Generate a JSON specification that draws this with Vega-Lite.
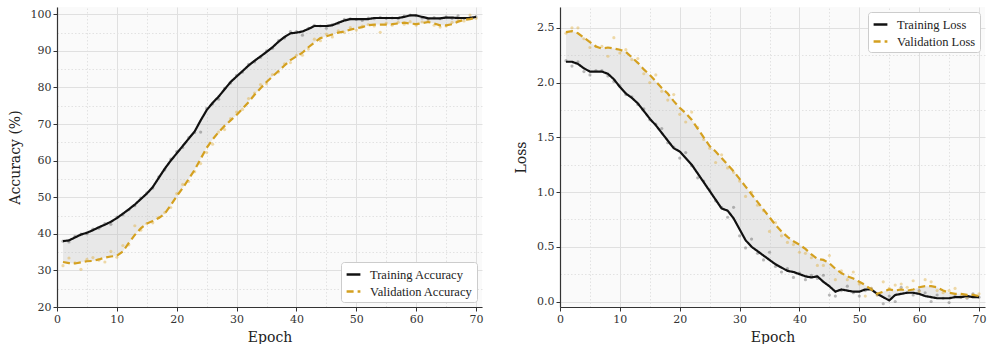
{
  "$schema": "https://vega.github.io/schema/vega-lite/v6.json",
  "padding": {"left": 8, "top": 7, "right": 5, "bottom": 0},
  "background": "white",
  "config": {
    "font": "DejaVu Serif",
    "view": {"fill": "#fafafa", "stroke": null},
    "axis": {
      "labelFont": "DejaVu Serif",
      "titleFont": "DejaVu Serif",
      "labelFontSize": 11,
      "titleFontSize": 14,
      "titleFontWeight": "normal",
      "labelColor": "#333333",
      "titleColor": "#222222",
      "domainColor": "#333333",
      "domainWidth": 1.2,
      "tickColor": "#333333",
      "tickSize": 4,
      "gridColor": "#e0e0e0",
      "labelFlush": false,
      "labelOverlap": false
    },
    "legend": {
      "labelFont": "Liberation Serif",
      "labelFontSize": 12.5,
      "labelColor": "#222222",
      "fillColor": "white",
      "strokeColor": "#cccccc",
      "padding": 4,
      "cornerRadius": 3,
      "rowPadding": 2,
      "symbolType": "M-1,0H1",
      "symbolSize": 190,
      "symbolStrokeWidth": 2.5,
      "labelOffset": 8,
      "offset": 5,
      "title": null
    }
  },
  "datasets": {
    "acc": [
      {"epoch":1,"series":"Training Accuracy","smooth":38.0,"raw":38.0},
      {"epoch":2,"series":"Training Accuracy","smooth":38.2,"raw":37.8},
      {"epoch":3,"series":"Training Accuracy","smooth":39.0,"raw":39.3},
      {"epoch":4,"series":"Training Accuracy","smooth":39.8,"raw":39.9},
      {"epoch":5,"series":"Training Accuracy","smooth":40.3,"raw":40.0},
      {"epoch":6,"series":"Training Accuracy","smooth":41.0,"raw":41.3},
      {"epoch":7,"series":"Training Accuracy","smooth":41.8,"raw":41.5},
      {"epoch":8,"series":"Training Accuracy","smooth":42.5,"raw":42.8},
      {"epoch":9,"series":"Training Accuracy","smooth":43.3,"raw":42.6},
      {"epoch":10,"series":"Training Accuracy","smooth":44.3,"raw":44.6},
      {"epoch":11,"series":"Training Accuracy","smooth":45.5,"raw":45.2},
      {"epoch":12,"series":"Training Accuracy","smooth":46.7,"raw":46.6},
      {"epoch":13,"series":"Training Accuracy","smooth":48.0,"raw":47.7},
      {"epoch":14,"series":"Training Accuracy","smooth":49.5,"raw":49.8},
      {"epoch":15,"series":"Training Accuracy","smooth":51.0,"raw":51.2},
      {"epoch":16,"series":"Training Accuracy","smooth":52.8,"raw":52.5},
      {"epoch":17,"series":"Training Accuracy","smooth":55.3,"raw":55.6},
      {"epoch":18,"series":"Training Accuracy","smooth":57.8,"raw":57.5},
      {"epoch":19,"series":"Training Accuracy","smooth":60.0,"raw":60.4},
      {"epoch":20,"series":"Training Accuracy","smooth":62.0,"raw":62.5},
      {"epoch":21,"series":"Training Accuracy","smooth":64.0,"raw":63.6},
      {"epoch":22,"series":"Training Accuracy","smooth":66.0,"raw":66.3},
      {"epoch":23,"series":"Training Accuracy","smooth":68.0,"raw":67.7},
      {"epoch":24,"series":"Training Accuracy","smooth":71.0,"raw":67.8},
      {"epoch":25,"series":"Training Accuracy","smooth":73.8,"raw":74.3},
      {"epoch":26,"series":"Training Accuracy","smooth":75.8,"raw":75.5},
      {"epoch":27,"series":"Training Accuracy","smooth":77.5,"raw":76.8},
      {"epoch":28,"series":"Training Accuracy","smooth":79.5,"raw":79.8},
      {"epoch":29,"series":"Training Accuracy","smooth":81.5,"raw":81.2},
      {"epoch":30,"series":"Training Accuracy","smooth":83.0,"raw":83.3},
      {"epoch":31,"series":"Training Accuracy","smooth":84.5,"raw":84.2},
      {"epoch":32,"series":"Training Accuracy","smooth":86.0,"raw":86.3},
      {"epoch":33,"series":"Training Accuracy","smooth":87.3,"raw":87.0},
      {"epoch":34,"series":"Training Accuracy","smooth":88.5,"raw":88.2},
      {"epoch":35,"series":"Training Accuracy","smooth":89.7,"raw":90.0},
      {"epoch":36,"series":"Training Accuracy","smooth":91.0,"raw":90.7},
      {"epoch":37,"series":"Training Accuracy","smooth":92.5,"raw":92.8},
      {"epoch":38,"series":"Training Accuracy","smooth":93.8,"raw":93.5},
      {"epoch":39,"series":"Training Accuracy","smooth":94.8,"raw":95.3},
      {"epoch":40,"series":"Training Accuracy","smooth":95.0,"raw":95.3},
      {"epoch":41,"series":"Training Accuracy","smooth":95.3,"raw":94.3},
      {"epoch":42,"series":"Training Accuracy","smooth":96.0,"raw":96.2},
      {"epoch":43,"series":"Training Accuracy","smooth":96.8,"raw":97.0},
      {"epoch":44,"series":"Training Accuracy","smooth":96.8,"raw":96.8},
      {"epoch":45,"series":"Training Accuracy","smooth":96.8,"raw":96.2},
      {"epoch":46,"series":"Training Accuracy","smooth":97.0,"raw":97.2},
      {"epoch":47,"series":"Training Accuracy","smooth":97.7,"raw":97.5},
      {"epoch":48,"series":"Training Accuracy","smooth":98.3,"raw":98.6},
      {"epoch":49,"series":"Training Accuracy","smooth":98.7,"raw":98.8},
      {"epoch":50,"series":"Training Accuracy","smooth":98.7,"raw":98.6},
      {"epoch":51,"series":"Training Accuracy","smooth":98.7,"raw":98.3},
      {"epoch":52,"series":"Training Accuracy","smooth":98.7,"raw":99.0},
      {"epoch":53,"series":"Training Accuracy","smooth":99.0,"raw":98.8},
      {"epoch":54,"series":"Training Accuracy","smooth":99.0,"raw":99.2},
      {"epoch":55,"series":"Training Accuracy","smooth":99.0,"raw":98.9},
      {"epoch":56,"series":"Training Accuracy","smooth":99.0,"raw":99.0},
      {"epoch":57,"series":"Training Accuracy","smooth":99.0,"raw":98.8},
      {"epoch":58,"series":"Training Accuracy","smooth":99.3,"raw":99.5},
      {"epoch":59,"series":"Training Accuracy","smooth":99.7,"raw":99.8},
      {"epoch":60,"series":"Training Accuracy","smooth":99.7,"raw":99.6},
      {"epoch":61,"series":"Training Accuracy","smooth":99.3,"raw":99.0},
      {"epoch":62,"series":"Training Accuracy","smooth":98.9,"raw":98.7},
      {"epoch":63,"series":"Training Accuracy","smooth":98.9,"raw":99.1},
      {"epoch":64,"series":"Training Accuracy","smooth":98.9,"raw":98.8},
      {"epoch":65,"series":"Training Accuracy","smooth":99.1,"raw":99.3},
      {"epoch":66,"series":"Training Accuracy","smooth":99.1,"raw":98.9},
      {"epoch":67,"series":"Training Accuracy","smooth":99.0,"raw":99.6},
      {"epoch":68,"series":"Training Accuracy","smooth":99.0,"raw":98.9},
      {"epoch":69,"series":"Training Accuracy","smooth":99.0,"raw":99.2},
      {"epoch":70,"series":"Training Accuracy","smooth":99.3,"raw":99.3},
      {"epoch":1,"series":"Validation Accuracy","smooth":32.3,"raw":31.3},
      {"epoch":2,"series":"Validation Accuracy","smooth":32.0,"raw":33.4},
      {"epoch":3,"series":"Validation Accuracy","smooth":31.9,"raw":32.1},
      {"epoch":4,"series":"Validation Accuracy","smooth":32.2,"raw":30.3},
      {"epoch":5,"series":"Validation Accuracy","smooth":32.5,"raw":33.0},
      {"epoch":6,"series":"Validation Accuracy","smooth":32.6,"raw":33.5},
      {"epoch":7,"series":"Validation Accuracy","smooth":33.0,"raw":32.8},
      {"epoch":8,"series":"Validation Accuracy","smooth":33.5,"raw":32.3},
      {"epoch":9,"series":"Validation Accuracy","smooth":33.8,"raw":35.2},
      {"epoch":10,"series":"Validation Accuracy","smooth":34.0,"raw":33.6},
      {"epoch":11,"series":"Validation Accuracy","smooth":35.2,"raw":36.8},
      {"epoch":12,"series":"Validation Accuracy","smooth":37.5,"raw":37.0},
      {"epoch":13,"series":"Validation Accuracy","smooth":39.7,"raw":42.2},
      {"epoch":14,"series":"Validation Accuracy","smooth":41.5,"raw":41.0},
      {"epoch":15,"series":"Validation Accuracy","smooth":42.8,"raw":42.8},
      {"epoch":16,"series":"Validation Accuracy","smooth":43.5,"raw":43.0},
      {"epoch":17,"series":"Validation Accuracy","smooth":44.3,"raw":44.5},
      {"epoch":18,"series":"Validation Accuracy","smooth":45.5,"raw":45.8},
      {"epoch":19,"series":"Validation Accuracy","smooth":47.8,"raw":47.2},
      {"epoch":20,"series":"Validation Accuracy","smooth":50.3,"raw":51.0},
      {"epoch":21,"series":"Validation Accuracy","smooth":52.5,"raw":53.5},
      {"epoch":22,"series":"Validation Accuracy","smooth":55.0,"raw":54.3},
      {"epoch":23,"series":"Validation Accuracy","smooth":57.5,"raw":57.0},
      {"epoch":24,"series":"Validation Accuracy","smooth":60.5,"raw":59.2},
      {"epoch":25,"series":"Validation Accuracy","smooth":63.5,"raw":62.2},
      {"epoch":26,"series":"Validation Accuracy","smooth":65.8,"raw":64.5},
      {"epoch":27,"series":"Validation Accuracy","smooth":67.8,"raw":67.8},
      {"epoch":28,"series":"Validation Accuracy","smooth":69.5,"raw":68.5},
      {"epoch":29,"series":"Validation Accuracy","smooth":71.0,"raw":71.5},
      {"epoch":30,"series":"Validation Accuracy","smooth":72.5,"raw":73.3},
      {"epoch":31,"series":"Validation Accuracy","smooth":74.2,"raw":74.0},
      {"epoch":32,"series":"Validation Accuracy","smooth":76.0,"raw":77.0},
      {"epoch":33,"series":"Validation Accuracy","smooth":78.0,"raw":78.5},
      {"epoch":34,"series":"Validation Accuracy","smooth":79.8,"raw":80.8},
      {"epoch":35,"series":"Validation Accuracy","smooth":81.5,"raw":81.0},
      {"epoch":36,"series":"Validation Accuracy","smooth":83.0,"raw":83.5},
      {"epoch":37,"series":"Validation Accuracy","smooth":84.5,"raw":84.2},
      {"epoch":38,"series":"Validation Accuracy","smooth":86.0,"raw":86.5},
      {"epoch":39,"series":"Validation Accuracy","smooth":87.5,"raw":86.8},
      {"epoch":40,"series":"Validation Accuracy","smooth":88.5,"raw":88.8},
      {"epoch":41,"series":"Validation Accuracy","smooth":89.5,"raw":88.8},
      {"epoch":42,"series":"Validation Accuracy","smooth":91.0,"raw":90.5},
      {"epoch":43,"series":"Validation Accuracy","smooth":92.3,"raw":93.2},
      {"epoch":44,"series":"Validation Accuracy","smooth":93.5,"raw":92.8},
      {"epoch":45,"series":"Validation Accuracy","smooth":94.0,"raw":94.6},
      {"epoch":46,"series":"Validation Accuracy","smooth":94.5,"raw":93.8},
      {"epoch":47,"series":"Validation Accuracy","smooth":95.0,"raw":95.5},
      {"epoch":48,"series":"Validation Accuracy","smooth":95.3,"raw":95.0},
      {"epoch":49,"series":"Validation Accuracy","smooth":95.8,"raw":96.4},
      {"epoch":50,"series":"Validation Accuracy","smooth":96.2,"raw":95.7},
      {"epoch":51,"series":"Validation Accuracy","smooth":96.5,"raw":96.8},
      {"epoch":52,"series":"Validation Accuracy","smooth":97.0,"raw":97.2},
      {"epoch":53,"series":"Validation Accuracy","smooth":97.2,"raw":96.8},
      {"epoch":54,"series":"Validation Accuracy","smooth":97.2,"raw":95.1},
      {"epoch":55,"series":"Validation Accuracy","smooth":97.2,"raw":97.6},
      {"epoch":56,"series":"Validation Accuracy","smooth":97.3,"raw":97.0},
      {"epoch":57,"series":"Validation Accuracy","smooth":97.5,"raw":97.8},
      {"epoch":58,"series":"Validation Accuracy","smooth":97.7,"raw":97.3},
      {"epoch":59,"series":"Validation Accuracy","smooth":97.5,"raw":98.0},
      {"epoch":60,"series":"Validation Accuracy","smooth":97.3,"raw":97.0},
      {"epoch":61,"series":"Validation Accuracy","smooth":97.6,"raw":97.9},
      {"epoch":62,"series":"Validation Accuracy","smooth":97.9,"raw":98.2},
      {"epoch":63,"series":"Validation Accuracy","smooth":97.5,"raw":97.0},
      {"epoch":64,"series":"Validation Accuracy","smooth":97.0,"raw":96.5},
      {"epoch":65,"series":"Validation Accuracy","smooth":97.0,"raw":96.8},
      {"epoch":66,"series":"Validation Accuracy","smooth":97.3,"raw":97.8},
      {"epoch":67,"series":"Validation Accuracy","smooth":98.0,"raw":98.3},
      {"epoch":68,"series":"Validation Accuracy","smooth":98.5,"raw":98.2},
      {"epoch":69,"series":"Validation Accuracy","smooth":98.7,"raw":99.8},
      {"epoch":70,"series":"Validation Accuracy","smooth":99.0,"raw":98.9}
    ],
    "loss": [
      {"epoch":1,"series":"Training Loss","smooth":2.19,"raw":2.20},
      {"epoch":2,"series":"Training Loss","smooth":2.19,"raw":2.15},
      {"epoch":3,"series":"Training Loss","smooth":2.17,"raw":2.19},
      {"epoch":4,"series":"Training Loss","smooth":2.13,"raw":2.10},
      {"epoch":5,"series":"Training Loss","smooth":2.10,"raw":2.07},
      {"epoch":6,"series":"Training Loss","smooth":2.10,"raw":2.11},
      {"epoch":7,"series":"Training Loss","smooth":2.10,"raw":2.11},
      {"epoch":8,"series":"Training Loss","smooth":2.08,"raw":2.06},
      {"epoch":9,"series":"Training Loss","smooth":2.03,"raw":2.01},
      {"epoch":10,"series":"Training Loss","smooth":1.96,"raw":1.97},
      {"epoch":11,"series":"Training Loss","smooth":1.90,"raw":1.89},
      {"epoch":12,"series":"Training Loss","smooth":1.86,"raw":1.87},
      {"epoch":13,"series":"Training Loss","smooth":1.81,"raw":1.80},
      {"epoch":14,"series":"Training Loss","smooth":1.74,"raw":1.76},
      {"epoch":15,"series":"Training Loss","smooth":1.67,"raw":1.66},
      {"epoch":16,"series":"Training Loss","smooth":1.61,"raw":1.62},
      {"epoch":17,"series":"Training Loss","smooth":1.54,"raw":1.58},
      {"epoch":18,"series":"Training Loss","smooth":1.47,"raw":1.45},
      {"epoch":19,"series":"Training Loss","smooth":1.40,"raw":1.41},
      {"epoch":20,"series":"Training Loss","smooth":1.37,"raw":1.31},
      {"epoch":21,"series":"Training Loss","smooth":1.31,"raw":1.36},
      {"epoch":22,"series":"Training Loss","smooth":1.25,"raw":1.24},
      {"epoch":23,"series":"Training Loss","smooth":1.17,"raw":1.13},
      {"epoch":24,"series":"Training Loss","smooth":1.09,"raw":1.10},
      {"epoch":25,"series":"Training Loss","smooth":1.01,"raw":1.02},
      {"epoch":26,"series":"Training Loss","smooth":0.93,"raw":0.92},
      {"epoch":27,"series":"Training Loss","smooth":0.85,"raw":0.86},
      {"epoch":28,"series":"Training Loss","smooth":0.83,"raw":0.77},
      {"epoch":29,"series":"Training Loss","smooth":0.76,"raw":0.86},
      {"epoch":30,"series":"Training Loss","smooth":0.66,"raw":0.60},
      {"epoch":31,"series":"Training Loss","smooth":0.56,"raw":0.49},
      {"epoch":32,"series":"Training Loss","smooth":0.50,"raw":0.57},
      {"epoch":33,"series":"Training Loss","smooth":0.46,"raw":0.44},
      {"epoch":34,"series":"Training Loss","smooth":0.42,"raw":0.38},
      {"epoch":35,"series":"Training Loss","smooth":0.38,"raw":0.45},
      {"epoch":36,"series":"Training Loss","smooth":0.34,"raw":0.32},
      {"epoch":37,"series":"Training Loss","smooth":0.31,"raw":0.27},
      {"epoch":38,"series":"Training Loss","smooth":0.28,"raw":0.30},
      {"epoch":39,"series":"Training Loss","smooth":0.27,"raw":0.22},
      {"epoch":40,"series":"Training Loss","smooth":0.25,"raw":0.26},
      {"epoch":41,"series":"Training Loss","smooth":0.23,"raw":0.20},
      {"epoch":42,"series":"Training Loss","smooth":0.22,"raw":0.24},
      {"epoch":43,"series":"Training Loss","smooth":0.23,"raw":0.21},
      {"epoch":44,"series":"Training Loss","smooth":0.18,"raw":0.24},
      {"epoch":45,"series":"Training Loss","smooth":0.14,"raw":0.06},
      {"epoch":46,"series":"Training Loss","smooth":0.09,"raw":0.05},
      {"epoch":47,"series":"Training Loss","smooth":0.11,"raw":0.10},
      {"epoch":48,"series":"Training Loss","smooth":0.10,"raw":0.14},
      {"epoch":49,"series":"Training Loss","smooth":0.09,"raw":0.08},
      {"epoch":50,"series":"Training Loss","smooth":0.09,"raw":0.05},
      {"epoch":51,"series":"Training Loss","smooth":0.11,"raw":0.10},
      {"epoch":52,"series":"Training Loss","smooth":0.11,"raw":0.12},
      {"epoch":53,"series":"Training Loss","smooth":0.07,"raw":0.06},
      {"epoch":54,"series":"Training Loss","smooth":0.04,"raw":-0.02},
      {"epoch":55,"series":"Training Loss","smooth":0.01,"raw":0.05},
      {"epoch":56,"series":"Training Loss","smooth":0.06,"raw":0.00},
      {"epoch":57,"series":"Training Loss","smooth":0.07,"raw":0.13},
      {"epoch":58,"series":"Training Loss","smooth":0.08,"raw":0.08},
      {"epoch":59,"series":"Training Loss","smooth":0.08,"raw":0.06},
      {"epoch":60,"series":"Training Loss","smooth":0.07,"raw":0.10},
      {"epoch":61,"series":"Training Loss","smooth":0.05,"raw":0.08},
      {"epoch":62,"series":"Training Loss","smooth":0.04,"raw":0.00},
      {"epoch":63,"series":"Training Loss","smooth":0.03,"raw":0.06},
      {"epoch":64,"series":"Training Loss","smooth":0.03,"raw":0.03},
      {"epoch":65,"series":"Training Loss","smooth":0.03,"raw":-0.01},
      {"epoch":66,"series":"Training Loss","smooth":0.04,"raw":0.05},
      {"epoch":67,"series":"Training Loss","smooth":0.04,"raw":0.04},
      {"epoch":68,"series":"Training Loss","smooth":0.05,"raw":0.03},
      {"epoch":69,"series":"Training Loss","smooth":0.04,"raw":0.07},
      {"epoch":70,"series":"Training Loss","smooth":0.04,"raw":0.04},
      {"epoch":1,"series":"Validation Loss","smooth":2.46,"raw":2.45},
      {"epoch":2,"series":"Validation Loss","smooth":2.47,"raw":2.50},
      {"epoch":3,"series":"Validation Loss","smooth":2.45,"raw":2.50},
      {"epoch":4,"series":"Validation Loss","smooth":2.41,"raw":2.40},
      {"epoch":5,"series":"Validation Loss","smooth":2.37,"raw":2.32},
      {"epoch":6,"series":"Validation Loss","smooth":2.33,"raw":2.33},
      {"epoch":7,"series":"Validation Loss","smooth":2.31,"raw":2.33},
      {"epoch":8,"series":"Validation Loss","smooth":2.32,"raw":2.24},
      {"epoch":9,"series":"Validation Loss","smooth":2.31,"raw":2.41},
      {"epoch":10,"series":"Validation Loss","smooth":2.30,"raw":2.27},
      {"epoch":11,"series":"Validation Loss","smooth":2.28,"raw":2.30},
      {"epoch":12,"series":"Validation Loss","smooth":2.23,"raw":2.21},
      {"epoch":13,"series":"Validation Loss","smooth":2.18,"raw":2.22},
      {"epoch":14,"series":"Validation Loss","smooth":2.12,"raw":2.08},
      {"epoch":15,"series":"Validation Loss","smooth":2.07,"raw":2.00},
      {"epoch":16,"series":"Validation Loss","smooth":2.01,"raw":2.07},
      {"epoch":17,"series":"Validation Loss","smooth":1.95,"raw":1.92},
      {"epoch":18,"series":"Validation Loss","smooth":1.90,"raw":1.84},
      {"epoch":19,"series":"Validation Loss","smooth":1.83,"raw":1.89},
      {"epoch":20,"series":"Validation Loss","smooth":1.77,"raw":1.71},
      {"epoch":21,"series":"Validation Loss","smooth":1.72,"raw":1.64},
      {"epoch":22,"series":"Validation Loss","smooth":1.66,"raw":1.73},
      {"epoch":23,"series":"Validation Loss","smooth":1.58,"raw":1.59},
      {"epoch":24,"series":"Validation Loss","smooth":1.50,"raw":1.48},
      {"epoch":25,"series":"Validation Loss","smooth":1.42,"raw":1.40},
      {"epoch":26,"series":"Validation Loss","smooth":1.37,"raw":1.27},
      {"epoch":27,"series":"Validation Loss","smooth":1.31,"raw":1.34},
      {"epoch":28,"series":"Validation Loss","smooth":1.25,"raw":1.22},
      {"epoch":29,"series":"Validation Loss","smooth":1.19,"raw":1.18},
      {"epoch":30,"series":"Validation Loss","smooth":1.12,"raw":1.10},
      {"epoch":31,"series":"Validation Loss","smooth":1.05,"raw":0.96},
      {"epoch":32,"series":"Validation Loss","smooth":0.98,"raw":1.00},
      {"epoch":33,"series":"Validation Loss","smooth":0.91,"raw":0.88},
      {"epoch":34,"series":"Validation Loss","smooth":0.84,"raw":0.83},
      {"epoch":35,"series":"Validation Loss","smooth":0.77,"raw":0.64},
      {"epoch":36,"series":"Validation Loss","smooth":0.70,"raw":0.72},
      {"epoch":37,"series":"Validation Loss","smooth":0.64,"raw":0.60},
      {"epoch":38,"series":"Validation Loss","smooth":0.59,"raw":0.54},
      {"epoch":39,"series":"Validation Loss","smooth":0.55,"raw":0.52},
      {"epoch":40,"series":"Validation Loss","smooth":0.52,"raw":0.45},
      {"epoch":41,"series":"Validation Loss","smooth":0.48,"raw":0.44},
      {"epoch":42,"series":"Validation Loss","smooth":0.43,"raw":0.40},
      {"epoch":43,"series":"Validation Loss","smooth":0.39,"raw":0.33},
      {"epoch":44,"series":"Validation Loss","smooth":0.38,"raw":0.33},
      {"epoch":45,"series":"Validation Loss","smooth":0.35,"raw":0.42},
      {"epoch":46,"series":"Validation Loss","smooth":0.30,"raw":0.20},
      {"epoch":47,"series":"Validation Loss","smooth":0.26,"raw":0.28},
      {"epoch":48,"series":"Validation Loss","smooth":0.23,"raw":0.20},
      {"epoch":49,"series":"Validation Loss","smooth":0.21,"raw":0.27},
      {"epoch":50,"series":"Validation Loss","smooth":0.18,"raw":0.16},
      {"epoch":51,"series":"Validation Loss","smooth":0.15,"raw":0.05},
      {"epoch":52,"series":"Validation Loss","smooth":0.11,"raw":0.12},
      {"epoch":53,"series":"Validation Loss","smooth":0.07,"raw":0.06},
      {"epoch":54,"series":"Validation Loss","smooth":0.09,"raw":0.18},
      {"epoch":55,"series":"Validation Loss","smooth":0.11,"raw":0.12},
      {"epoch":56,"series":"Validation Loss","smooth":0.10,"raw":0.15},
      {"epoch":57,"series":"Validation Loss","smooth":0.11,"raw":0.16},
      {"epoch":58,"series":"Validation Loss","smooth":0.10,"raw":0.13},
      {"epoch":59,"series":"Validation Loss","smooth":0.11,"raw":0.19},
      {"epoch":60,"series":"Validation Loss","smooth":0.13,"raw":0.09},
      {"epoch":61,"series":"Validation Loss","smooth":0.14,"raw":0.20},
      {"epoch":62,"series":"Validation Loss","smooth":0.14,"raw":0.18},
      {"epoch":63,"series":"Validation Loss","smooth":0.13,"raw":0.10},
      {"epoch":64,"series":"Validation Loss","smooth":0.10,"raw":0.08},
      {"epoch":65,"series":"Validation Loss","smooth":0.08,"raw":0.10},
      {"epoch":66,"series":"Validation Loss","smooth":0.07,"raw":0.12},
      {"epoch":67,"series":"Validation Loss","smooth":0.07,"raw":0.05},
      {"epoch":68,"series":"Validation Loss","smooth":0.06,"raw":0.04},
      {"epoch":69,"series":"Validation Loss","smooth":0.06,"raw":0.06},
      {"epoch":70,"series":"Validation Loss","smooth":0.05,"raw":0.07}
    ]
  },
  "hconcat": [
    {
      "width": 425,
      "height": 300,
      "data": {"name": "acc"},
      "resolve": {"axis": {"x": "independent", "y": "independent"}},
      "layer": [
        {
          "transform": [{"pivot": "series", "value": "smooth", "groupby": ["epoch"]}],
          "mark": {"type": "area", "fill": "#bbbbbb", "fillOpacity": 0.28},
          "encoding": {
            "x": {"field": "epoch", "type": "quantitative", "scale": {"domain": [0, 71], "nice": false},
              "axis": {"title": "Epoch", "orient": "bottom", "values": [0,10,20,30,40,50,60,70], "titlePadding": 6}},
            "y": {"field": "Training Accuracy", "type": "quantitative", "scale": {"domain": [20, 102], "nice": false},
              "axis": {"title": "Accuracy (%)", "orient": "left", "values": [20,30,40,50,60,70,80,90,100], "titlePadding": 8}},
            "y2": {"field": "Validation Accuracy"}
          }
        },
        {
          "transform": [{"filter": "datum.series === 'Training Accuracy'"}],
          "mark": {"type": "circle", "size": 10, "color": "#555555", "opacity": 0.4},
          "encoding": {
            "x": {"field": "epoch", "type": "quantitative",
              "axis": {"orient": "top", "title": null, "values": [5,15,25,35,45,55,65], "labels": false, "ticks": false, "domain": false, "grid": true, "gridDash": [1.5, 2], "gridColor": "#e2e2e2"}},
            "y": {"field": "raw", "type": "quantitative",
              "axis": {"orient": "right", "title": null, "values": [25,35,45,55,65,75,85,95], "labels": false, "ticks": false, "domain": false, "grid": true, "gridDash": [1.5, 2], "gridColor": "#e2e2e2"}}
          }
        },
        {
          "transform": [{"filter": "datum.series === 'Validation Accuracy'"}],
          "mark": {"type": "circle", "size": 10, "color": "#e0b040", "opacity": 0.45},
          "encoding": {
            "x": {"field": "epoch", "type": "quantitative", "axis": null},
            "y": {"field": "raw", "type": "quantitative", "axis": null}
          }
        },
        {
          "mark": {"type": "line", "strokeWidth": 2.2},
          "encoding": {
            "x": {"field": "epoch", "type": "quantitative", "axis": null},
            "y": {"field": "smooth", "type": "quantitative", "axis": null},
            "color": {"field": "series", "type": "nominal",
              "scale": {"domain": ["Training Accuracy", "Validation Accuracy"], "range": ["#111111", "#d4a020"]},
              "legend": {"orient": "bottom-right"}},
            "strokeDash": {"field": "series", "type": "nominal",
              "scale": {"domain": ["Training Accuracy", "Validation Accuracy"], "range": [[1, 0], [7, 4]]},
              "legend": {"orient": "bottom-right"}}
          }
        }
      ]
    },
    {
      "width": 425,
      "height": 300,
      "data": {"name": "loss"},
      "resolve": {"axis": {"x": "independent", "y": "independent"}},
      "layer": [
        {
          "transform": [{"pivot": "series", "value": "smooth", "groupby": ["epoch"]}],
          "mark": {"type": "area", "fill": "#bbbbbb", "fillOpacity": 0.28},
          "encoding": {
            "x": {"field": "epoch", "type": "quantitative", "scale": {"domain": [0, 71], "nice": false},
              "axis": {"title": "Epoch", "orient": "bottom", "values": [0,10,20,30,40,50,60,70], "titlePadding": 6}},
            "y": {"field": "Training Loss", "type": "quantitative", "scale": {"domain": [-0.05, 2.69], "nice": false, "zero": false},
              "axis": {"title": "Loss", "orient": "left", "values": [0, 0.5, 1, 1.5, 2, 2.5], "format": ".1f", "titlePadding": 8}},
            "y2": {"field": "Validation Loss"}
          }
        },
        {
          "transform": [{"filter": "datum.series === 'Training Loss'"}],
          "mark": {"type": "circle", "size": 10, "color": "#555555", "opacity": 0.4},
          "encoding": {
            "x": {"field": "epoch", "type": "quantitative",
              "axis": {"orient": "top", "title": null, "values": [5,15,25,35,45,55,65], "labels": false, "ticks": false, "domain": false, "grid": true, "gridDash": [1.5, 2], "gridColor": "#e2e2e2"}},
            "y": {"field": "raw", "type": "quantitative",
              "axis": {"orient": "right", "title": null, "values": [0.25, 0.75, 1.25, 1.75, 2.25], "labels": false, "ticks": false, "domain": false, "grid": true, "gridDash": [1.5, 2], "gridColor": "#e2e2e2"}}
          }
        },
        {
          "transform": [{"filter": "datum.series === 'Validation Loss'"}],
          "mark": {"type": "circle", "size": 10, "color": "#e0b040", "opacity": 0.45},
          "encoding": {
            "x": {"field": "epoch", "type": "quantitative", "axis": null},
            "y": {"field": "raw", "type": "quantitative", "axis": null}
          }
        },
        {
          "mark": {"type": "line", "strokeWidth": 2.2},
          "encoding": {
            "x": {"field": "epoch", "type": "quantitative", "axis": null},
            "y": {"field": "smooth", "type": "quantitative", "axis": null},
            "color": {"field": "series", "type": "nominal",
              "scale": {"domain": ["Training Loss", "Validation Loss"], "range": ["#111111", "#d4a020"]},
              "legend": {"orient": "top-right"}},
            "strokeDash": {"field": "series", "type": "nominal",
              "scale": {"domain": ["Training Loss", "Validation Loss"], "range": [[1, 0], [7, 4]]},
              "legend": {"orient": "top-right"}}
          }
        }
      ]
    }
  ],
  "spacing": 30,
  "resolve": {"scale": {"color": "independent", "strokeDash": "independent", "x": "independent", "y": "independent"}, "legend": {"color": "independent", "strokeDash": "independent"}}
}
